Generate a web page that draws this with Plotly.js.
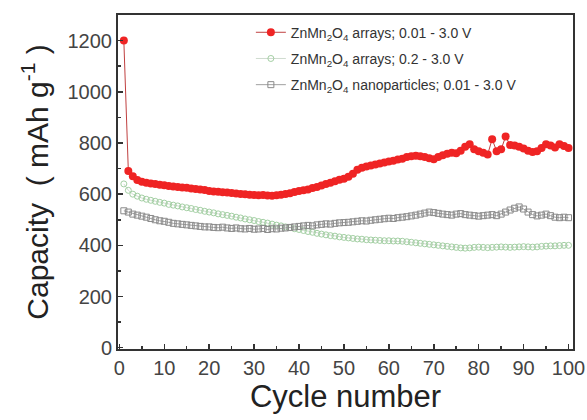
<!DOCTYPE html>
<html><head><meta charset="utf-8">
<script src="https://cdn.plot.ly/plotly-3.0.1.min.js"></script>
<style>html,body{margin:0;padding:0;background:#fff}#c{width:587px;height:420px}</style>
</head><body><div id="c"></div>
<script>
const cycles = Array.from({length:100},(_,i)=>i+1);
const arrays001 = [1200,690,670,655,648,645,642,640,637,635,
632,630,628,626,625,622,620,618,616,612,
610,609,607,606,605,603,601,600,598,597,
596,597,595,594,596,598,601,604,608,612,
615,618,624,628,634,640,645,650,656,660,
668,680,695,703,708,712,716,720,724,728,
731,735,738,745,748,750,748,745,740,736,
745,752,758,762,760,770,785,795,775,768,
762,755,815,768,775,825,792,790,785,778,
770,765,768,780,795,790,782,795,788,780];
const arrays02 = [640,615,600,592,585,580,576,572,568,565,
560,557,554,550,547,544,540,537,533,530,
527,523,520,517,514,510,507,503,500,497,
493,490,487,483,479,476,472,469,465,462,
458,454,451,447,444,441,438,436,433,431,
429,427,425,424,422,421,420,419,418,418,
417,417,416,414,412,410,408,406,404,402,
400,398,396,394,392,390,389,390,392,393,
392,391,392,393,394,393,392,393,394,395,
394,393,394,396,397,398,398,399,400,400];
const nanoparticles = [535,530,522,518,514,510,505,500,496,494,
490,486,484,482,480,478,476,474,472,472,
470,469,471,468,466,468,465,464,466,463,
464,466,462,465,464,467,468,470,472,474,
476,478,476,480,482,484,483,486,488,489,
490,492,494,496,495,498,500,502,504,506,
505,508,510,512,515,518,522,526,530,528,
525,522,520,518,522,524,520,518,516,514,
516,518,520,516,522,530,538,545,550,542,
530,520,515,518,522,516,510,508,510,508];
const names = ['ZnMn<sub>2</sub>O<sub>4</sub> arrays; 0.01 - 3.0 V',
 'ZnMn<sub>2</sub>O<sub>4</sub> arrays; 0.2 - 3.0 V',
 'ZnMn<sub>2</sub>O<sub>4</sub> nanoparticles; 0.01 - 3.0 V'];

const tNano = {x:cycles, y:nanoparticles, name:names[2], mode:'lines+markers', type:'scatter', legendgroup:'c', legendrank:3,
  line:{color:'#a0a0a0', width:1}, marker:{symbol:'square-open', size:6, color:'#8a8a8a', line:{width:1}}};
const tA02 = {x:cycles, y:arrays02, name:names[1], mode:'lines+markers', type:'scatter', legendgroup:'b', legendrank:2,
  line:{color:'#cfdccf', width:1}, marker:{symbol:'circle-open', size:6, color:'#a3cfa3', line:{width:1}}};
const tA001 = {x:cycles, y:arrays001, name:names[0], mode:'lines+markers', type:'scatter', legendgroup:'a', legendrank:1,
  line:{color:'#c04040', width:1}, marker:{symbol:'circle', size:8, color:'#ef2424', line:{width:0}}};

const layout = {
 width:587, height:420,
 margin:{l:118, r:14, t:15, b:71},
 paper_bgcolor:'#fff', plot_bgcolor:'#fff',
 font:{family:'Liberation Sans, Arial, sans-serif', color:'#333'},
 showlegend:true,
 legend:{x:0.292, y:0.995, xanchor:'left', yanchor:'top', bgcolor:'rgba(0,0,0,0)',
   font:{size:14, color:'#333'}, tracegroupgap:5, itemwidth:30},
 xaxis:{range:[-0.3,101], tickvals:[0,10,20,30,40,50,60,70,80,90,100], ticks:'inside', ticklen:5, tickwidth:1.5,
   tickcolor:'#333', showline:true, linecolor:'#333', linewidth:2, mirror:true, showgrid:false, zeroline:false,
   tickfont:{size:20, color:'#444'},
   minor:{dtick:5, tick0:0, ticks:'inside', ticklen:3, tickcolor:'#333', showgrid:false},
   title:{text:'Cycle number', font:{size:31, color:'#222'}, standoff:6}},
 yaxis:{range:[-5,1300], tickvals:[0,200,400,600,800,1000,1200], ticks:'inside', ticklen:5, tickwidth:1.5,
   tickcolor:'#333', showline:true, linecolor:'#333', linewidth:2, mirror:true, showgrid:false, zeroline:false,
   tickfont:{size:20, color:'#444'},
   minor:{dtick:100, tick0:0, ticks:'inside', ticklen:3, tickcolor:'#333', showgrid:false},
   title:{text:'Capacity  ( mAh g<sup>-1</sup> )', font:{size:30, color:'#222'}, standoff:10}}
};
Plotly.newPlot('c', [tA001, tA02, tNano], layout, {displayModeBar:false, staticPlot:true});
</script></body></html>
